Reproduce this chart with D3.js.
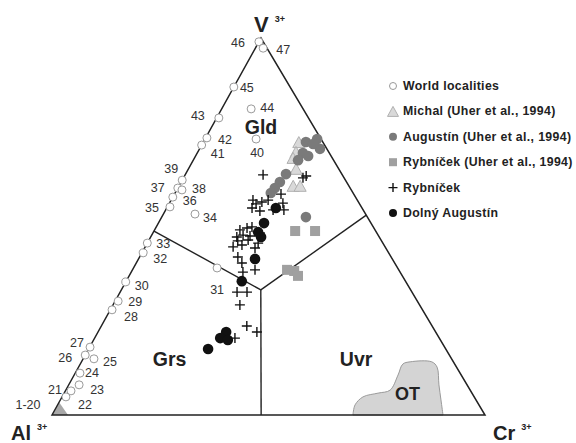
<!DOCTYPE html>
<html><head><meta charset="utf-8">
<script src="https://cdn.jsdelivr.net/npm/d3@7/dist/d3.min.js"></script>
<style>
html,body{margin:0;padding:0;background:#fff;}
svg{display:block;font-family:Arial,"Liberation Sans",sans-serif;}
</style></head>
<body><svg id="chart" width="576" height="443"></svg>
<script>
// values: [V3+ %, Cr3+ %]  (Al3+ = 100 - V - Cr)
const worldLocalities = [
  ["46",99,0],["47",97.3,1.8],["45",87,0],["44",81.2,6.8],["43",78.8,0.5],
  ["42",73.5,0.3],["41",71.6,0],["40",73.2,11.8],["39",62.3,0],["37",60.2,0],
  ["38",59.7,1.2],["36",57.8,0],["35",55.2,0.6],["34",53.3,7.3],["33",45.6,0],
  ["32",43.0,0.3],["31",39.0,19.3],["30",35.3,0],["29",30.2,0.7],["28",27.9,0.4],
  ["27",18.0,0.1],["26",15.9,0],["25",14.9,2.5],["24",11.1,1.1],["23",8.0,2.4],
  ["21",6.4,1.3],["22",4.8,0.9]
];
const michal = [[72.1,22.2],[69.5,22.8],[67.9,22.9],[65.0,25.0],[60.5,26.5],[60.5,28.1]];
const augustinUher = [[72.4,23.7],[73.2,25.9],[70.6,27.8],[69.5,24.4],[68.7,26.0],[67.6,24.2],
  [63.9,23.2],[61.8,22.8],[60.2,22.4],[58.9,22.1],[52.5,33.3],[71.9,25.6]];
const rybnicekUher = [[48.8,32.6],[48.8,37.2],[38.5,35.7],[38.2,37.5],[36.9,39.0]];
const rybnicek = [[63.7,18.0],[62.9,27.6],[63.4,28.1],[57.0,18.9],[56.5,21.2],[57.0,22.4],
  [54.9,19.7],[54.1,21.9],[58.6,24.6],[56.2,26.2],[54.4,27.3],[49.1,19.7],[49.6,21.1],
  [49.9,22.1],[47.2,19.9],[47.7,21.1],[44.6,20.3],[45.1,22.1],[46.2,20.6],[46.4,22.9],
  [48.3,24.7],[45.6,25.6],[44.3,25.5],[41.9,22.7],[40.3,24.4],[37.9,25.8],[38.5,28.3],
  [32.6,27.0],[32.6,29.3],[29.2,29.3],[23.6,33.6],[22.0,36.7],[20.4,32.4],[54.4,24.8],
  [56.0,20.1],[47.5,22.8]];
const dolnyAugustin = [[54.9,25.2],[50.9,24.4],[47.2,25.5],[48.5,24.2],[41.4,26.9],[35.5,26.7],
  [22.0,29.6],[20.4,29.0],[19.9,31.0],[17.5,27.6]];
const otField = [[0,69.5],[2.7,68.7],[4.8,69.5],[5.8,72.5],[6.6,74.9],[10.6,74.8],[13.5,74.5],
  [14.1,75.9],[14.1,80.9],[12.7,82.8],[8.0,85.5],[4.0,87.9],[0,90.3]];
const cornerField = [[0,0],[0,3.7],[3.4,0]];
// field boundaries: centre and the three edge ends
const boundaryCentre = [33.2,32.2];
const boundaryEnds = [[48.8,0],[53.0,47.0],[0,48.3]];
const legendLabels = ["World localities","Michal (Uher et al., 1994)","Augustín (Uher et al., 1994)",
  "Rybníček (Uher et al., 1994)","Rybníček","Dolný Augustín"];
const fieldNames = [["Gld",74.6,8.5],["Grs",13,17],["Uvr",13,60.2]];

// label placement (style, not data)
const labelOffsets = {"46":[-21,1],"47":[20,2],"45":[13,1],"44":[16,-1],"43":[-21,-2],"42":[18,2],
 "41":[16,9],"40":[1,14],"39":[-11,-11],"37":[-20,0],"38":[17,-1],"36":[17,4],"35":[-18,1],
 "34":[15,4],"33":[16,1],"32":[17,6],"31":[0,22],"30":[16,4],"29":[17,1],"28":[19,7],
 "27":[-13,-4],"26":[-20,3],"25":[16,3],"24":[12,0],"23":[18,5],"21":[-16,-1],"22":[19,8]};

const svg = d3.select("#chart");
const vY = d3.scaleLinear().domain([0,100]).range([415,38]);
const crX = d3.scaleLinear().domain([0,100]).range([52,485]);
const vX = d3.scaleLinear().domain([0,100]).range([0,209]);
const px = (v,cr)=>crX(cr)+vX(v);
const py = (v)=>vY(v);

const lineGen = d3.line().x(d=>px(d[0],d[1])).y(d=>py(d[0]));
// fields
svg.append("path").attr("d", d3.line().x(d=>px(d[0],d[1])).y(d=>py(d[0])).curve(d3.curveCatmullRom.alpha(0.5))(otField)+"Z")
  .attr("fill","#d4d4d4").attr("stroke","#9a9a9a").attr("stroke-width",1);
svg.append("path").attr("d", lineGen(cornerField)+"Z").attr("fill","#a8a8a8").attr("stroke","none");

// triangle
const corners = [[0,0],[100,0],[0,100]];
svg.append("path").attr("d", lineGen(corners)+"Z").attr("fill","none").attr("stroke","#222").attr("stroke-width",1.5);
boundaryEnds.forEach(e=>{
  svg.append("path").attr("d", lineGen([boundaryCentre,e])).attr("stroke","#222").attr("stroke-width",1.4).attr("fill","none");
});

// world localities
const wl = svg.append("g");
wl.selectAll("circle").data(worldLocalities).join("circle")
  .attr("cx",d=>px(d[1],d[2])).attr("cy",d=>py(d[1])).attr("r",4)
  .attr("fill","#fff").attr("stroke","#9a9a9a").attr("stroke-width",1);
wl.selectAll("text").data(worldLocalities).join("text")
  .attr("x",d=>px(d[1],d[2])+labelOffsets[d[0]][0]).attr("y",d=>py(d[1])+labelOffsets[d[0]][1])
  .attr("text-anchor","middle").attr("dominant-baseline","central")
  .attr("font-size",12.5).attr("fill","#333").text(d=>d[0]);
svg.append("text").attr("x",px(0,0)-24).attr("y",py(0)-10).attr("text-anchor","middle")
  .attr("dominant-baseline","central").attr("font-size",12.5).attr("fill","#333").text("1-20");

const tri = (x,y,s)=>`M${x},${y-s*0.6}L${x+s*0.55},${y+s*0.4}L${x-s*0.55},${y+s*0.4}Z`;
svg.append("g").selectAll("path").data(michal).join("path")
  .attr("d",d=>tri(px(d[0],d[1]),py(d[0]),11)).attr("fill","#d9d9d9").attr("stroke","#b0b0b0").attr("stroke-width",1);
svg.append("g").selectAll("circle").data(augustinUher).join("circle")
  .attr("cx",d=>px(d[0],d[1])).attr("cy",d=>py(d[0])).attr("r",5.3).attr("fill","#7a7a7a");
svg.append("g").selectAll("rect").data(rybnicekUher).join("rect")
  .attr("x",d=>px(d[0],d[1])-5).attr("y",d=>py(d[0])-5).attr("width",10).attr("height",10).attr("fill","#a0a0a0");
svg.append("g").selectAll("circle").data(dolnyAugustin).join("circle")
  .attr("cx",d=>px(d[0],d[1])).attr("cy",d=>py(d[0])).attr("r",5.3).attr("fill","#111");
const plus = (x,y,s)=>`M${x-s},${y}H${x+s}M${x},${y-s}V${y+s}`;
svg.append("g").selectAll("path").data(rybnicek).join("path")
  .attr("d",d=>plus(px(d[0],d[1]),py(d[0]),5)).attr("stroke","#111").attr("stroke-width",1.4).attr("fill","none");

// field names
svg.append("g").selectAll("text").data(fieldNames).join("text")
  .attr("x",d=>px(d[1],d[2])).attr("y",d=>py(d[1])).attr("font-size",19.5).attr("font-weight","bold")
  .attr("fill","#222").text(d=>d[0]);
svg.append("text").attr("x",px(4,77.3)).attr("y",py(4)).attr("font-size",18).attr("font-weight","bold").attr("fill","#222").text("OT");

// vertex labels
function vlabel(x,y,main,size){
  const t = svg.append("text").attr("x",x).attr("y",y).attr("font-weight","bold").attr("fill","#222");
  t.append("tspan").attr("font-size",size).text(main);
  t.append("tspan").attr("font-size",9).attr("dx",6).attr("dy",-10).text("3+");
}
vlabel(px(100,0)-7,py(100)-6,"V",22);
vlabel(px(0,0)-41,py(0)+25,"Al",20);
vlabel(px(0,100)+8,py(0)+25,"Cr",20);

// legend
const lg = svg.append("g");
const ly = d3.scalePoint().domain(legendLabels).range([86,213]);
legendLabels.forEach((t,i)=>{
  const x=393, y=ly(t);
  if(i===0) lg.append("circle").attr("cx",x).attr("cy",y).attr("r",3.5).attr("fill","#fff").attr("stroke","#999");
  if(i===1) lg.append("path").attr("d",tri(x,y+1,10)).attr("fill","#d9d9d9").attr("stroke","#b0b0b0");
  if(i===2) lg.append("circle").attr("cx",x).attr("cy",y).attr("r",4).attr("fill","#7a7a7a");
  if(i===3) lg.append("rect").attr("x",x-4).attr("y",y-4).attr("width",8).attr("height",8).attr("fill","#a0a0a0");
  if(i===4) lg.append("path").attr("d",plus(x,y,4.5)).attr("stroke","#111").attr("stroke-width",1.4);
  if(i===5) lg.append("circle").attr("cx",x).attr("cy",y).attr("r",4).attr("fill","#111");
  lg.append("text").attr("x",403).attr("y",y).attr("dominant-baseline","central")
    .attr("font-size",12.3).attr("letter-spacing",0.35).attr("font-weight","bold").attr("fill","#222").text(t);
});
</script></body></html>
